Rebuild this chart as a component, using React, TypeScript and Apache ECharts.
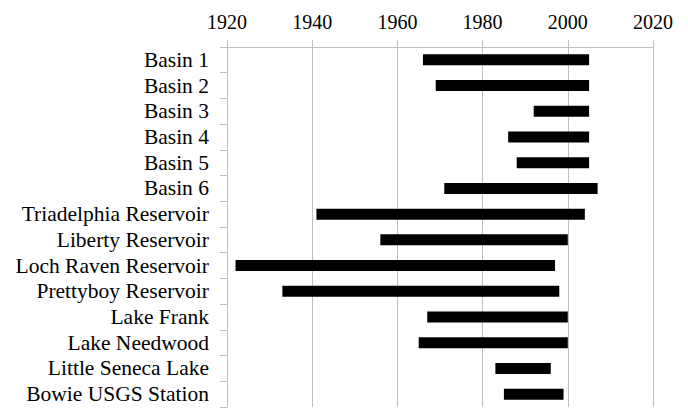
import React, { useEffect, useRef } from "react";
import * as echarts from "echarts";

const categories = [
  "Basin 1",
  "Basin 2",
  "Basin 3",
  "Basin 4",
  "Basin 5",
  "Basin 6",
  "Triadelphia Reservoir",
  "Liberty Reservoir",
  "Loch Raven Reservoir",
  "Prettyboy Reservoir",
  "Lake Frank",
  "Lake Needwood",
  "Little Seneca Lake",
  "Bowie USGS Station",
];
const startYears = [1966, 1969, 1992, 1986, 1988, 1971, 1941, 1956, 1922, 1933, 1967, 1965, 1983, 1985];
const endYears = [2005, 2005, 2005, 2005, 2005, 2007, 2004, 2000, 1997, 1998, 2000, 2000, 1996, 1999];

const FONT = "Liberation Serif";
const GRID_COLOR = "#bfbfbf";

export default function App() {
  const ref = useRef<HTMLDivElement>(null);
  useEffect(() => {
    if (!ref.current) return;
    const chart = echarts.init(ref.current, undefined, { renderer: "svg" });
    chart.setOption({
      animation: false,
      textStyle: { fontFamily: FONT },
      grid: { left: 227, right: 35, top: 47, bottom: 1, containLabel: false },
      xAxis: {
        type: "value",
        position: "top",
        min: 1920,
        max: 2020,
        interval: 20,
        axisLine: { show: true, lineStyle: { color: GRID_COLOR, width: 1 } },
        axisTick: { show: true, length: 7, lineStyle: { color: GRID_COLOR } },
        splitLine: { show: true, lineStyle: { color: GRID_COLOR, width: 1 } },
        axisLabel: {
          fontFamily: FONT,
          fontSize: 20,
          color: "#000",
          margin: 15,
          formatter: (v: number) => String(v),
        },
      },
      yAxis: {
        type: "category",
        inverse: true,
        data: categories,
        axisLine: { show: true, lineStyle: { color: GRID_COLOR, width: 1 } },
        axisTick: { show: true, length: 7, alignWithLabel: false, interval: 0, lineStyle: { color: GRID_COLOR } },
        axisLabel: { fontFamily: FONT, fontSize: 21.5, color: "#000", margin: 18, interval: 0 },
      },
      series: [
        {
          type: "bar",
          stack: "span",
          data: startYears,
          itemStyle: { color: "transparent" },
          barWidth: 11,
          silent: true,
        },
        {
          type: "bar",
          stack: "span",
          data: endYears.map((e, i) => e - startYears[i]),
          itemStyle: { color: "#000" },
          barWidth: 11,
        },
      ],
    });
    return () => chart.dispose();
  }, []);
  return <div ref={ref} style={{ width: 688, height: 408, position: "absolute", left: 0, top: 0 }} />;
}
